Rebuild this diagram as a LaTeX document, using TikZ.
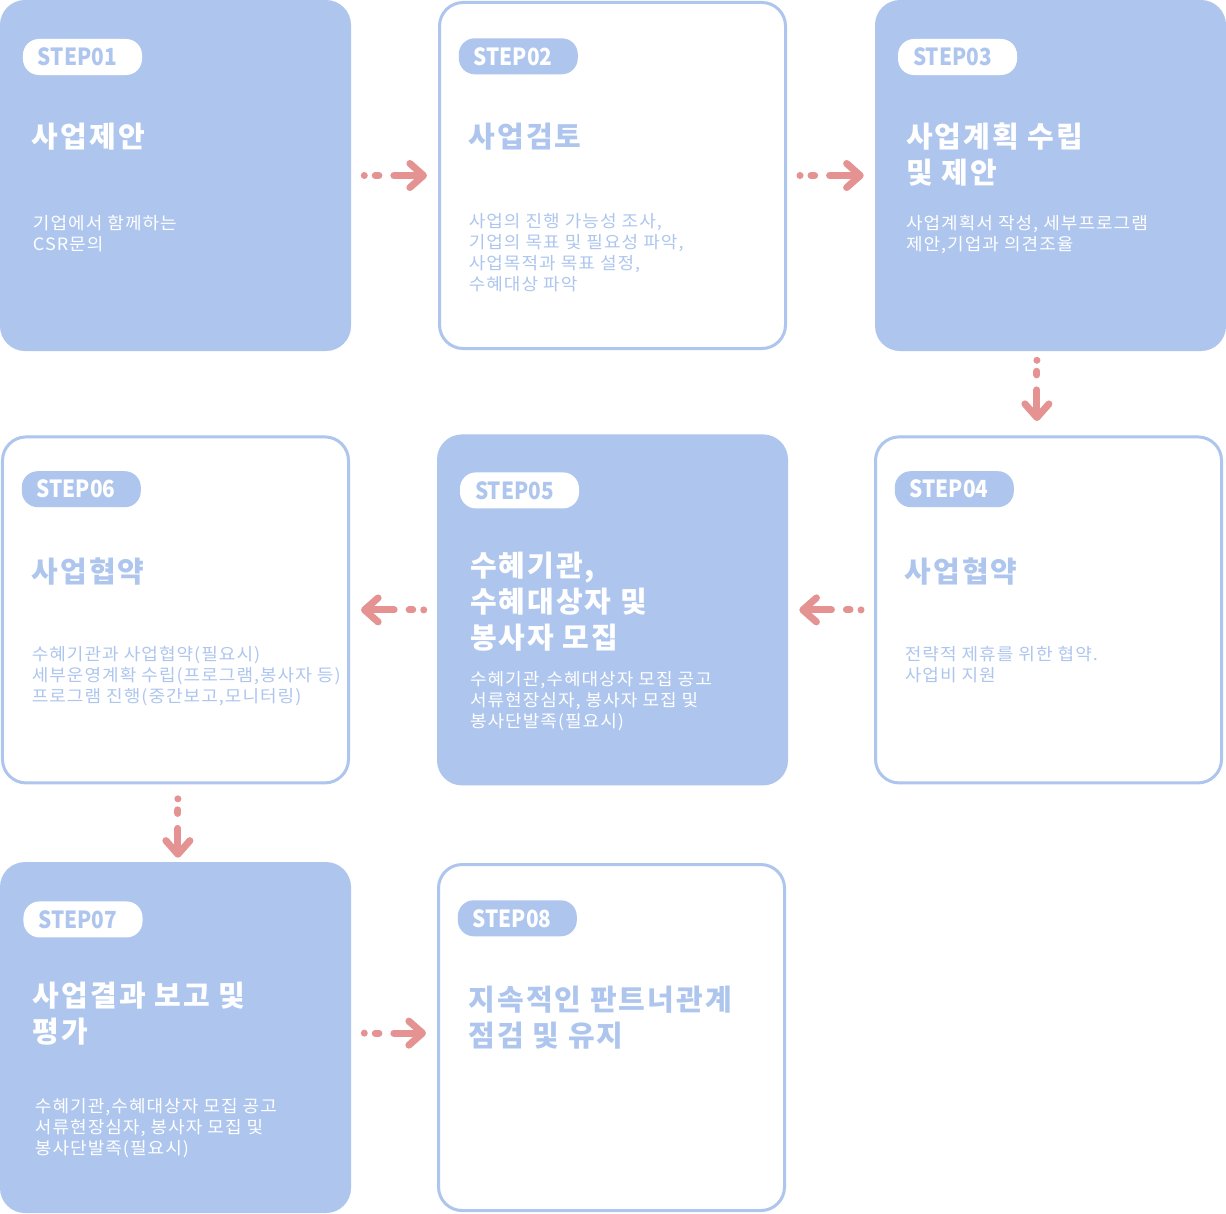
\documentclass[tikz,border=0pt]{standalone}
\usepackage{fontspec}
\setmainfont{Noto Sans CJK KR}
\usetikzlibrary{positioning,arrows.meta}
\definecolor{stepblue}{RGB}{174,198,238}
\definecolor{flowred}{RGB}{229,146,146}

\begin{document}
\begin{tikzpicture}[x=0.25mm, y=-0.25mm]
\tikzset{node distance=109.25mm,
    fullbox/.style={rectangle, fill=stepblue, rounded corners=6.25mm, minimum width=87.75mm, minimum height=87.75mm, inner sep=0pt},
    linebox/.style={rectangle, draw=stepblue, fill=white, line width=0.75mm, rounded corners=5.9mm, minimum width=86.5mm, minimum height=86.5mm, inner sep=0pt},
    tag/.style={rectangle, rounded corners=4mm, minimum height=9mm, text width=22.25mm, inner xsep=3.75mm, inner ysep=0pt, align=left, anchor=north west, font=\fontsize{5.9mm}{6mm}\selectfont\bfseries\addfontfeatures{FakeStretch=0.88}},
    title/.style={anchor=north west, align=left, inner sep=0pt, font=\fontsize{7.25mm}{9mm}\selectfont\bfseries\addfontfeatures{LetterSpace=7}},
    body/.style={anchor=north west, align=left, inner sep=0pt, font=\fontsize{4.25mm}{5.25mm}\selectfont\addfontfeatures{LetterSpace=6, FakeStretch=1.06}},
    flow/.style={draw=flowred, line width=1.75mm, line cap=round, dash pattern=on 0mm off 2.75mm on 0.9mm off 3.75mm on 200mm, shorten <=3.25mm, shorten >=2.75mm, -{Straight Barb[round, length=3.4mm, width=6mm]}}
}

  \path[use as bounding box, fill=white] (0,0) rectangle (1226,1213);

  % boxes
  \node[fullbox] (b1) at (175.5,175.5) {};
  \node[linebox, right of=b1] (b2) {};
  \node[fullbox, right of=b2, node distance=109.5mm] (b3) {};
  \node[linebox, below of=b3, node distance=108.6mm, xshift=-0.5mm] (b4) {};
  \node[fullbox, left of=b4, node distance=109mm] (b5) {};
  \node[linebox, left of=b5] (b6) {};
  \node[fullbox, below of=b6, node distance=106.9mm] (b7) {};
  \node[linebox, right of=b7, node distance=109mm] (b8) {};

  % step tags
  \node[tag, fill=white, text=stepblue] (s1) at ([shift={(23,39)}]b1.north west) {STEP01};
  \node[tag, fill=stepblue, text=white] (s2) at ([shift={(20.5,37)}]b2.north west) {STEP02};
  \node[tag, fill=white, text=stepblue] (s3) at ([shift={(23,39)}]b3.north west) {STEP03};
  \node[tag, fill=stepblue, text=white] (s4) at ([shift={(20.5,35.5)}]b4.north west) {STEP04};
  \node[tag, fill=white, text=stepblue] (s5) at ([shift={(23,38)}]b5.north west) {STEP05};
  \node[tag, fill=stepblue, text=white] (s6) at ([shift={(20.5,35.5)}]b6.north west) {STEP06};
  \node[tag, fill=white, text=stepblue] (s7) at ([shift={(23.5,39.4)}]b7.north west) {STEP07};
  \node[tag, fill=stepblue, text=white] (s8) at ([shift={(20.5,37)}]b8.north west) {STEP08};

  % titles
  \node[title, text=white] (t1) at ([shift={(32,123)}]b1.north west) {사업제안};
  \node[title, text=stepblue] (t2) at ([shift={(30.5,121.5)}]b2.north west) {사업검토};
  \node[title, text=white] (t3) at ([shift={(31,123)}]b3.north west) {사업계획 수립\\및 제안};
  \node[title, text=stepblue] (t4) at ([shift={(30.5,122.5)}]b4.north west) {사업협약};
  \node[title, text=white] (t5) at ([shift={(33,118)}]b5.north west) {수혜기관,\\수혜대상자 및\\봉사자 모집};
  \node[title, text=stepblue] (t6) at ([shift={(30.5,122.5)}]b6.north west) {사업협약};
  \node[title, text=white] (t7) at ([shift={(33,120)}]b7.north west) {사업결과 보고 및\\평가};
  \node[title, text=stepblue] (t8) at ([shift={(31.5,122.5)}]b8.north west) {지속적인 판트너관계\\점검 및 유지};

  % texts
  \node[body, text=white] (d1) at ([shift={(33,215)}]b1.north west) {기업에서 함께하는\\CSR문의};
  \node[body, text=stepblue] (d2) at ([shift={(30.5,212.5)}]b2.north west) {사업의 진행 가능성 조사,\\기업의 목표 및 필요성 파악,\\사업목적과 목표 설정,\\수혜대상 파악};
  \node[body, text=white] (d3) at ([shift={(31,215)}]b3.north west) {사업계획서 작성, 세부프로그램\\제안,기업과 의견조율};
  \node[body, text=stepblue] (d4) at ([shift={(30.5,210.5)}]b4.north west) {전략적 제휴를 위한 협약.\\사업비 지원};
  \node[body, text=white] (d5) at ([shift={(33,237)}]b5.north west) {수혜기관,수혜대상자 모집 공고\\서류현장심자, 봉사자 모집 및\\봉사단발족(필요시)};
  \node[body, text=stepblue] (d6) at ([shift={(30.5,210.5)}]b6.north west) {수혜기관과 사업협약(필요시)\\세부운영계확 수립(프로그램,봉사자 등)\\프로그램 진행(중간보고,모니터링)};
  \node[body, text=white] (d7) at ([shift={(35,236)}]b7.north west) {수혜기관,수혜대상자 모집 공고\\서류현장심자, 봉사자 모집 및\\봉사단발족(필요시)};

  % flow
  \draw[flow] (b1.east) -- (b2.west);
  \draw[flow] (b2.east) -- (b3.west);
  \draw[flow, shorten <=2.25mm, shorten >=3.6mm] ([xshift=-3.4mm]b3.south) -- ([xshift=-3.4mm]b3.south |- b4.north);
  \draw[flow] (b4.west) -- (b5.east);
  \draw[flow] (b5.west) -- (b6.east);
  \draw[flow, shorten <=3.6mm, shorten >=1mm] ([xshift=0.6mm]b6.south) -- ([xshift=0.6mm]b6.south |- b7.north);
  \draw[flow] ([yshift=1.1mm]b7.east) -- ([yshift=1.1mm]b7.east -| b8.west);
\end{tikzpicture}
\end{document}
